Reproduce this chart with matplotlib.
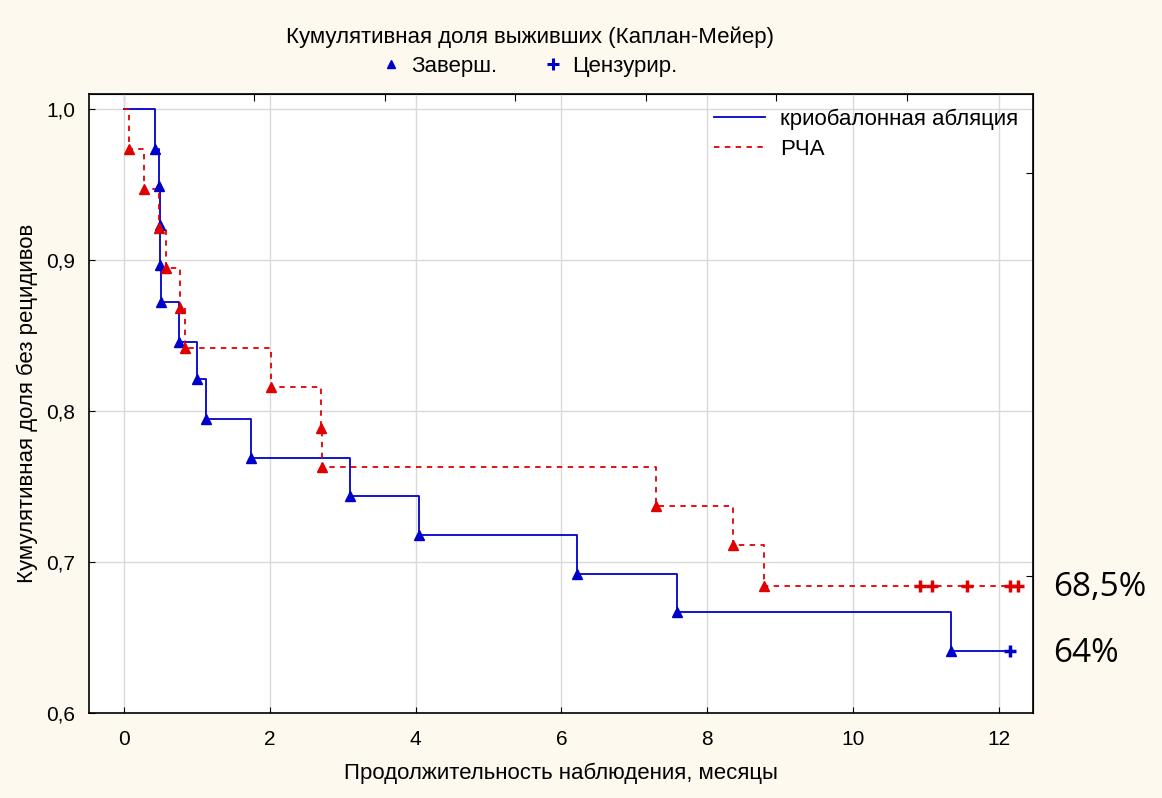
import matplotlib
matplotlib.use('Agg')
import matplotlib.pyplot as plt
from matplotlib.lines import Line2D

plt.rcParams['font.family'] = ['Liberation Sans', 'DejaVu Sans']

# --- данные (оценка по картинке) ---
cryo_times = [0.43, 0.48, 0.50, 0.50, 0.51, 0.76, 1.00, 1.13, 1.74, 3.10, 4.04, 6.22, 7.58, 11.35]
cryo_surv = [0.974, 0.949, 0.923, 0.897, 0.872, 0.846, 0.821, 0.795, 0.769, 0.744, 0.718, 0.692, 0.667, 0.641]
cryo_cens = [12.15]

rfa_times = [0.07, 0.27, 0.48, 0.58, 0.77, 0.84, 2.01, 2.70, 2.72, 7.30, 8.36, 8.78]
rfa_surv = [0.974, 0.947, 0.921, 0.895, 0.868, 0.842, 0.816, 0.789, 0.763, 0.737, 0.711, 0.684]
rfa_cens = [10.92, 11.08, 11.56, 12.15, 12.26]

x_ticks = [0, 2, 4, 6, 8, 10, 12]
y_ticks = [0.6, 0.7, 0.8, 0.9, 1.0]
y_labels = ['0,6', '0,7', '0,8', '0,9', '1,0']

bg = '#FEF9EE'
blue = '#0000CC'
red = '#E00000'

fig = plt.figure(figsize=(11.62, 7.98), dpi=100, facecolor=bg)
ax = fig.add_axes([0.0766, 0.1065, 0.8124, 0.7755])
ax.set_facecolor('white')

def km_line(times, surv, cens):
    xs = [0] + list(times) + [max(cens)]
    ys = [1.0] + list(surv) + [surv[-1]]
    return xs, ys

# криобалонная абляция
xs, ys = km_line(cryo_times, cryo_surv, cryo_cens)
ax.step(xs, ys, where='post', color=blue, lw=1.3, zorder=3, label='криобалонная абляция')
ax.plot(cryo_times, cryo_surv, ls='none', marker='^', ms=7, color=blue, zorder=4)
ax.plot(cryo_cens, [cryo_surv[-1]] * len(cryo_cens), ls='none', marker='+', ms=9, mew=2.5,
        color=blue, zorder=4)

# РЧА
xs, ys = km_line(rfa_times, rfa_surv, rfa_cens)
ax.step(xs, ys, where='post', color=red, lw=1.3, ls=(0, (3, 3)), zorder=3, label='РЧА')
ax.plot(rfa_times, rfa_surv, ls='none', marker='^', ms=7, color=red, zorder=4)
ax.plot(rfa_cens, [rfa_surv[-1]] * len(rfa_cens), ls='none', marker='+', ms=9, mew=2.5,
        color=red, zorder=4)

ax.set_xlim(-0.48, 12.47)
ax.set_ylim(0.6, 1.01)
ax.set_xticks(x_ticks)
ax.set_yticks(y_ticks)
ax.set_yticklabels(y_labels)
ax.grid(True, color='#D9D9D9', lw=1)
ax.set_axisbelow(True)
ax.tick_params(direction='in', length=4, labelsize=15, colors='black')
ax.tick_params(axis='x', pad=12)
ax.tick_params(axis='y', pad=10)
for s in ax.spines.values():
    s.set_linewidth(1.2)
    s.set_color('black')

# дополнительные засечки сверху и справа
top = ax.secondary_xaxis('top')
top.set_xticks([0, 1.79, 3.58, 5.37, 7.16, 8.95, 10.74])
top.set_xticklabels([])
top.tick_params(direction='in', length=5)
right = ax.secondary_yaxis('right')
right.set_yticks([0.958, 0.691])
right.set_yticklabels([])
right.tick_params(direction='in', length=5)

ax.set_xlabel('Продолжительность наблюдения, месяцы', fontsize=16, labelpad=10)
ax.set_ylabel('Кумулятивная доля без рецидивов', fontsize=16, labelpad=6)

leg = ax.legend(loc='upper right', frameon=False, fontsize=16, handlelength=2.3,
                handletextpad=0.7, borderaxespad=0.25, labelspacing=0.4)

fig.text(0.456, 0.953, 'Кумулятивная доля выживших (Каплан-Мейер)', fontsize=16,
         ha='center', va='center')
h1 = Line2D([], [], ls='none', marker='^', ms=6, color=blue)
h2 = Line2D([], [], ls='none', marker='+', ms=8, mew=2.2, color=blue)
fig.legend([h1, h2], ['Заверш.', 'Цензурир.'], loc='center', bbox_to_anchor=(0.457, 0.917),
           ncol=2, frameon=False, fontsize=16, handlelength=0.6, handletextpad=0.6,
           columnspacing=2.2)

fig.text(0.906, 0.264, '68,5%', fontsize=24, family='Open Sans', va='center', ha='left')
fig.text(0.906, 0.181, '64%', fontsize=24, family='Open Sans', va='center', ha='left')

fig.savefig('out.png', dpi=100, facecolor=bg)
